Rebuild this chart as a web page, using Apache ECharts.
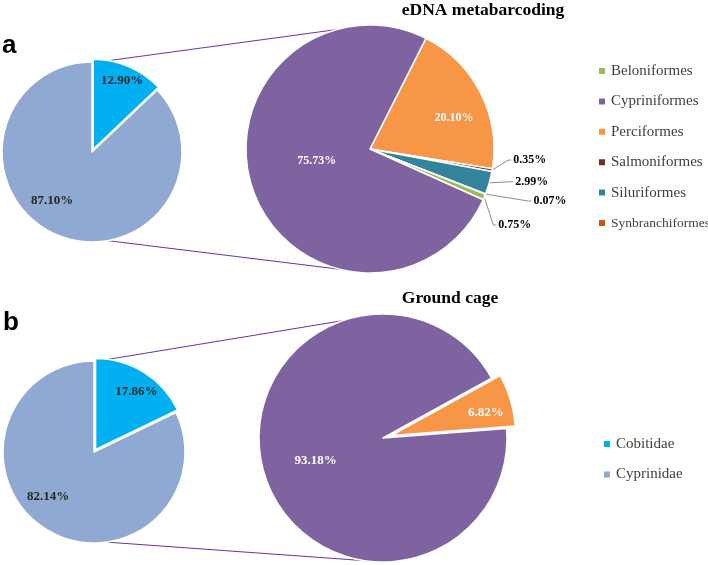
<!DOCTYPE html>
<html><head><meta charset="utf-8">
<script src="https://cdn.jsdelivr.net/npm/echarts@6/dist/echarts.min.js"></script>
<style>html,body{margin:0;padding:0;background:#fff}#c{width:708px;height:565px}</style>
</head><body><div id="c"></div>
<script>
// ---------- DATA ----------
// Panel a (eDNA metabarcoding)
const aSmallNames = ['Zoomed share', 'Remaining share'];
const aSmallValues = [12.90, 87.10];
const aBigNames = ['Perciformes', 'Salmoniformes', 'Siluriformes', 'Synbranchiformes', 'Beloniformes', 'Cypriniformes'];
const aBigValues = [20.10, 0.35, 2.99, 0.07, 0.75, 75.73];
const aLegendNames = ['Beloniformes', 'Cypriniformes', 'Perciformes', 'Salmoniformes', 'Siluriformes', 'Synbranchiformes'];
// Panel b (Ground cage)
const bSmallNames = ['Cobitidae', 'Cyprinidae'];
const bSmallValues = [17.86, 82.14];
const bBigNames = ['Cage group B', 'Cage group A'];
const bBigValues = [6.82, 93.18];
const bLegendNames = ['Cobitidae', 'Cyprinidae'];
const panelTitles = ['eDNA metabarcoding', 'Ground cage'];
const panelLetters = ['a', 'b'];

// ---------- STYLE ----------
const colorMap = {
  'Zoomed share': '#00B0F0', 'Remaining share': '#8FA9D2',
  'Cobitidae': '#00B0F0', 'Cyprinidae': '#8FA9D2',
  'Beloniformes': '#9BBB59', 'Cypriniformes': '#7F63A0', 'Perciformes': '#F79646',
  'Salmoniformes': '#7B2B2B', 'Siluriformes': '#31849B', 'Synbranchiformes': '#C55A11',
  'Cage group A': '#7F63A0', 'Cage group B': '#F79646'
};
const G = {
  aS: {cx: 92, cy: 152, r: 90, start: 90, off: 3},
  aB: {cx: 370, cy: 149, r: 124, start: 63.2, off: 0},
  bS: {cx: 94, cy: 452, r: 91, start: 90, off: 3},
  bB: {cx: 383, cy: 438, r: 124, start: 28.9, off: 9}
};
const SERIF = '"Liberation Serif","Times New Roman",serif';
const fmt = p => p.value.toFixed(2) + '%';

// label shifts (inside labels: dx,dy from default; outside labels: offset of text from arc edge)
const aSmallShift = [[10, -24], [-21, 5]];
const aBigShift = [[26, -2], [21, -10], [26, -1], [48, 7], [14, 28], [8, -10]];
const bSmallShift = [[15, -17], [-20, 4]];
const bBigShift = [[32, -4], [-5, 4]];
const aBigOutside = [false, true, true, true, true, false];

function items(names, values, selIdx, outside) {
  return names.map((n, i) => {
    const d = {name: n, value: values[i], itemStyle: {color: colorMap[n]}};
    if (i === selIdx) d.selected = true;
    if (outside && outside[i]) {
      d.label = {position: 'outside', color: '#000', fontSize: 12};
      d.labelLine = {show: true, lineStyle: {color: '#8c8c8c', width: 1}};
    }
    return d;
  });
}

function pie(g, data, shift, labelColor, fontSize) {
  return {
    type: 'pie', center: [g.cx, g.cy], radius: [0, g.r], startAngle: g.start, clockwise: true,
    avoidLabelOverlap: false, selectedMode: 'single', selectedOffset: g.off, animation: false,
    z: 3, silent: true,
    itemStyle: {borderColor: '#fff', borderWidth: 1.5},
    label: {show: true, position: 'inside', formatter: fmt, color: labelColor, fontFamily: SERIF,
      fontWeight: 'bold', fontSize: fontSize},
    labelLine: {show: false},
    emphasis: {disabled: true},
    labelLayout: function (p) {
      const s = shift[p.dataIndex];
      const pts = p.labelLinePoints;
      if (pts && pts.length) {
        const e = pts[0];
        const x = e[0] + s[0], y = e[1] + s[1];
        return {x: x, y: y, align: 'left', verticalAlign: 'middle',
          labelLinePoints: [[e[0], e[1]], [x - 5, y], [x - 2, y]]};
      }
      return {dx: s[0], dy: s[1]};
    },
    data: data
  };
}

function edge(g, deg, selDir) {
  const a = deg * Math.PI / 180;
  let x = g.cx + g.r * Math.sin(a), y = g.cy - g.r * Math.cos(a);
  if (selDir != null) {
    const b = selDir * Math.PI / 180;
    x += g.off * Math.sin(b); y -= g.off * Math.cos(b);
  }
  return [x, y];
}
const aMid = aSmallValues[0] / 100 * 180;
const bMid = bSmallValues[0] / 100 * 180;
const links = [
  [edge(G.aS, 10, aMid), edge(G.aB, 0)],
  [edge(G.aS, 170), edge(G.aB, 180)],
  [edge(G.bS, 8, bMid), edge(G.bB, 0)],
  [edge(G.bS, 172), edge(G.bB, 180)]
];

const graphics = links.map(l => ({
  type: 'line', z: 0, silent: true,
  shape: {x1: l[0][0], y1: l[0][1], x2: l[1][0], y2: l[1][1]},
  style: {stroke: '#7030A0', lineWidth: 1}
}));
graphics.push(
  {type: 'text', z: 5, style: {x: 2, y: 46, text: panelLetters[0], font: 'bold 26px "Liberation Sans",Arial,sans-serif', fill: '#000', textVerticalAlign: 'middle'}},
  {type: 'text', z: 5, style: {x: 3, y: 323, text: panelLetters[1], font: 'bold 26px "Liberation Sans",Arial,sans-serif', fill: '#000', textVerticalAlign: 'middle'}},
  {type: 'text', z: 5, style: {x: 483, y: 10, text: panelTitles[0], font: 'bold 17.5px ' + SERIF, fill: '#000', textAlign: 'center', textVerticalAlign: 'middle'}},
  {type: 'text', z: 5, style: {x: 450, y: 298, text: panelTitles[1], font: 'bold 17.5px ' + SERIF, fill: '#000', textAlign: 'center', textVerticalAlign: 'middle'}}
);

const legendCommon = {
  orient: 'vertical', icon: 'rect', itemWidth: 8, itemHeight: 8, itemGap: 14.4,
  selectedMode: false, padding: 0,
  textStyle: {fontFamily: SERIF, fontSize: 15, color: '#404040', lineHeight: 16, overflow: 'none'}
};
const aLegendData = aLegendNames.map(n => n.length > 14
  ? {name: n, textStyle: {fontSize: 13.5}} : {name: n});

const chart = echarts.init(document.getElementById('c'), null, {renderer: 'canvas'});
chart.setOption({
  backgroundColor: '#fff',
  animation: false,
  legend: [
    Object.assign({}, legendCommon, {data: aLegendData, left: 597, top: 63}),
    Object.assign({}, legendCommon, {data: bLegendNames, left: 602, top: 436})
  ],
  graphic: graphics,
  series: [
    pie(G.aS, items(aSmallNames, aSmallValues, 0), aSmallShift, '#262626', 13),
    pie(G.aB, items(aBigNames, aBigValues, -1, aBigOutside), aBigShift, '#fff', 12),
    pie(G.bS, items(bSmallNames, bSmallValues, 0), bSmallShift, '#262626', 13),
    pie(G.bB, items(bBigNames, bBigValues, 0), bBigShift, '#fff', 13)
  ]
});
</script></body></html>
